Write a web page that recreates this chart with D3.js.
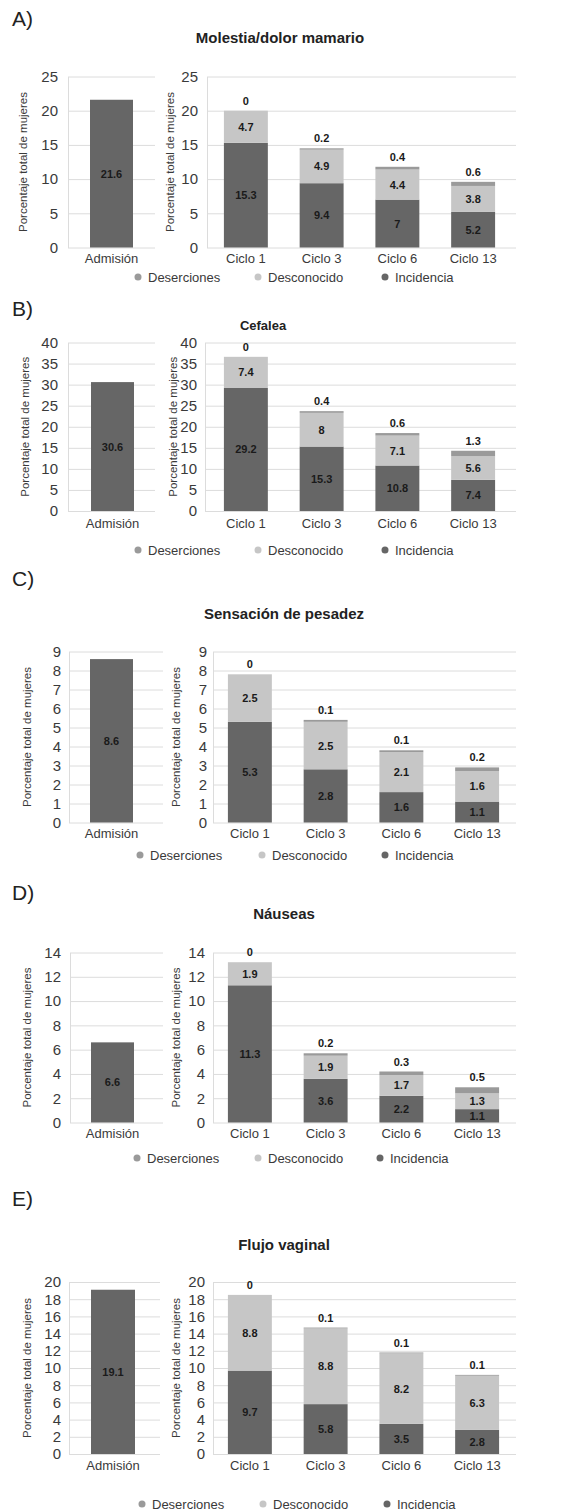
<!DOCTYPE html>
<html lang="es">
<head>
<meta charset="utf-8">
<script src="https://cdn.jsdelivr.net/npm/d3@7"></script>
<style>
  html, body { margin: 0; padding: 0; background: #fff; }
  svg { display: block; font-family: "Liberation Sans", Arial, sans-serif; }
</style>
</head>
<body>
<svg id="fig" width="572" height="1512"></svg>
<script>
// ---- data -------------------------------------------------------------
const panelLetters = ["A)", "B)", "C)", "D)", "E)"];
const titles = ["Molestia/dolor mamario", "Cefalea", "Sensación de pesadez", "Náuseas", "Flujo vaginal"];
const admisionLabel = ["Admisión"];
const cycles = ["Ciclo 1", "Ciclo 3", "Ciclo 6", "Ciclo 13"];
const admision = [21.6, 30.6, 8.6, 6.6, 19.1];
const incidencia = [
  [15.3, 9.4, 7, 5.2],
  [29.2, 15.3, 10.8, 7.4],
  [5.3, 2.8, 1.6, 1.1],
  [11.3, 3.6, 2.2, 1.1],
  [9.7, 5.8, 3.5, 2.8]
];
const desconocido = [
  [4.7, 4.9, 4.4, 3.8],
  [7.4, 8, 7.1, 5.6],
  [2.5, 2.5, 2.1, 1.6],
  [1.9, 1.9, 1.7, 1.3],
  [8.8, 8.8, 8.2, 6.3]
];
const deserciones = [
  [0, 0.2, 0.4, 0.6],
  [0, 0.4, 0.6, 1.3],
  [0, 0.1, 0.1, 0.2],
  [0, 0.2, 0.3, 0.5],
  [0, 0.1, 0.1, 0.1]
];
const yMax = [25, 40, 9, 14, 20];
const yStep = [5, 5, 1, 2, 2];
const legendLabels = ["Deserciones", "Desconocido", "Incidencia"];
const yTitle = "Porcentaje total de mujeres";

// ---- layout of each panel (pixels) -------------------------------------
const layout = [
  { letterY: 18,  titleX: 280, titleY: 37,  titleSize: 15, y0: 247.5, y1: 76.5,  catY: 258,  legY: 277,
    lAxis: 68, lBar: [90, 133], lGrid: 155, rAxis: 207, rBars: [208, 511], rGrid: 516, lPad: 10, rPad: 9, lTitle: 23, rTitle: 170, legX: [138, 258, 385] },
  { letterY: 308, titleX: 263, titleY: 325, titleSize: 13, y0: 511,   y1: 342.5, catY: 523,  legY: 550,
    lAxis: 68, lBar: [91, 134], lGrid: 155, rAxis: 205, rBars: [208, 511], rGrid: 516, lPad: 10, rPad: 8, lTitle: 25, rTitle: 173, legX: [138, 258, 385] },
  { letterY: 578, titleX: 284, titleY: 613, titleSize: 15, y0: 822.5, y1: 651.5, catY: 833,  legY: 855,
    lAxis: 69, lBar: [90, 133], lGrid: 163, rAxis: 213, rBars: [212, 515], rGrid: 516, lPad: 8, rPad: 6, lTitle: 27, rTitle: 176, legX: [140, 262, 385] },
  { letterY: 892, titleX: 284, titleY: 913, titleSize: 15, y0: 1122.5, y1: 952.5, catY: 1133, legY: 1158,
    lAxis: 70, lBar: [91, 134], lGrid: 163, rAxis: 213, rBars: [212, 515], rGrid: 516, lPad: 9, rPad: 8, lTitle: 27, rTitle: 176, legX: [137, 258, 380] },
  { letterY: 1198, titleX: 284, titleY: 1244, titleSize: 15, y0: 1454, y1: 1282, catY: 1465, legY: 1504,
    lAxis: 69, lBar: [91, 135], lGrid: 160, rAxis: 213, rBars: [212, 515], rGrid: 516, lPad: 8, rPad: 8, lTitle: 27, rTitle: 176, legX: [142, 263, 387] }
];

const colors = { Deserciones: "#9a9a9a", Desconocido: "#c6c6c6", Incidencia: "#666666" };
const gridColor = "#dcdcdc";
const textColor = "#3a3a3a";

const svg = d3.select("#fig");

panelLetters.forEach((letter, i) => {
  const L = layout[i];
  const g = svg.append("g");

  // panel letter and title
  g.append("text").attr("x", 12).attr("y", L.letterY).attr("dominant-baseline", "central")
    .attr("font-size", 21).attr("fill", "#222").text(letter);
  g.append("text").attr("x", L.titleX).attr("y", L.titleY).attr("dominant-baseline", "central")
    .attr("text-anchor", "middle").attr("font-size", L.titleSize).attr("font-weight", "bold")
    .attr("fill", "#222").text(titles[i]);

  const y = d3.scaleLinear().domain([0, yMax[i]]).range([L.y0, L.y1]);
  const ticks = d3.range(0, yMax[i] + 1e-9, yStep[i]);

  // ---- left chart: admission -------------------------------------------
  const bwL = L.lBar[1] - L.lBar[0];
  const xL = d3.scaleBand().domain(admisionLabel)
    .range([L.lBar[0] - bwL / 2, L.lBar[1] + bwL / 2]).paddingInner(0.5).paddingOuter(0.25);

  const axL = g.append("g").attr("transform", `translate(${L.lAxis},0)`)
    .call(d3.axisLeft(y).tickValues(ticks).tickSizeInner(-(L.lGrid - L.lAxis)).tickSizeOuter(0).tickPadding(L.lPad));
  styleYAxis(axL);

  g.append("g").selectAll("rect").data(admisionLabel).join("rect")
    .attr("x", d => xL(d)).attr("width", xL.bandwidth())
    .attr("y", () => y(admision[i])).attr("height", () => y(0) - y(admision[i]))
    .attr("fill", colors.Incidencia);
  g.append("text").attr("x", xL(admisionLabel[0]) + xL.bandwidth() / 2)
    .attr("y", (y(0) + y(admision[i])) / 2).attr("dominant-baseline", "central")
    .attr("text-anchor", "middle").attr("font-size", 11).attr("font-weight", "bold").attr("fill", "#1a1a1a")
    .text(admision[i]);

  const catL = g.append("g").attr("transform", `translate(0,${L.catY})`)
    .call(d3.axisBottom(xL).tickSize(0).tickPadding(0));
  styleXAxis(catL);

  g.append("text").attr("transform", `translate(${L.lTitle},${(L.y0 + L.y1) / 2}) rotate(-90)`)
    .attr("text-anchor", "middle").attr("dominant-baseline", "central")
    .attr("font-size", 11.5).attr("fill", textColor).text(yTitle);

  // ---- right chart: cycles, stacked -------------------------------------
  const xR = d3.scaleBand().domain(cycles).range(L.rBars).paddingInner(0.42).paddingOuter(0.21);

  const axR = g.append("g").attr("transform", `translate(${L.rAxis},0)`)
    .call(d3.axisLeft(y).tickValues(ticks).tickSizeInner(-(L.rGrid - L.rAxis)).tickSizeOuter(0).tickPadding(L.rPad));
  styleYAxis(axR);

  const rows = cycles.map((c, j) => ({
    cycle: c,
    Incidencia: incidencia[i][j],
    Desconocido: desconocido[i][j],
    Deserciones: deserciones[i][j]
  }));
  const stack = d3.stack().keys(["Incidencia", "Desconocido", "Deserciones"])(rows);

  g.append("g").selectAll("g").data(stack).join("g")
    .attr("fill", s => colors[s.key])
    .selectAll("rect").data(s => s).join("rect")
    .attr("x", d => xR(d.data.cycle)).attr("width", xR.bandwidth())
    .attr("y", d => y(d[1])).attr("height", d => y(d[0]) - y(d[1]));

  // labels inside the two main segments
  stack.filter(s => s.key !== "Deserciones").forEach(s => {
    g.append("g").selectAll("text").data(s).join("text")
      .attr("x", d => xR(d.data.cycle) + xR.bandwidth() / 2)
      .attr("y", d => (y(d[0]) + y(d[1])) / 2)
      .attr("dominant-baseline", "central").attr("text-anchor", "middle")
      .attr("font-size", 11).attr("font-weight", "bold").attr("fill", "#1a1a1a")
      .text(d => d.data[s.key]);
  });
  // dropout values sit above each bar
  const top = stack[2];
  g.append("g").selectAll("text").data(top).join("text")
    .attr("x", d => xR(d.data.cycle) + xR.bandwidth() / 2)
    .attr("y", d => y(d[1]) - 10)
    .attr("dominant-baseline", "central").attr("text-anchor", "middle")
    .attr("font-size", 11).attr("font-weight", "bold").attr("fill", "#1a1a1a")
    .text(d => d.data.Deserciones);

  const catR = g.append("g").attr("transform", `translate(0,${L.catY})`)
    .call(d3.axisBottom(xR).tickSize(0).tickPadding(0));
  styleXAxis(catR);

  g.append("text").attr("transform", `translate(${L.rTitle},${(L.y0 + L.y1) / 2}) rotate(-90)`)
    .attr("text-anchor", "middle").attr("dominant-baseline", "central")
    .attr("font-size", 11.5).attr("fill", textColor).text(yTitle);

  // ---- legend --------------------------------------------------------------
  const leg = g.append("g").selectAll("g").data(legendLabels).join("g")
    .attr("transform", (d, k) => `translate(${L.legX[k]},${L.legY})`);
  leg.append("circle").attr("r", 3.5).attr("fill", d => colors[d]);
  leg.append("text").attr("x", 10).attr("dominant-baseline", "central")
    .attr("font-size", 13).attr("fill", textColor).text(d => d);
});

function styleYAxis(sel) {
  sel.select(".domain").attr("stroke", gridColor);
  sel.selectAll(".tick line").attr("stroke", gridColor);
  sel.selectAll(".tick text").attr("font-size", 15).attr("fill", textColor)
    .attr("font-family", "'Liberation Sans', Arial, sans-serif");
}
function styleXAxis(sel) {
  sel.select(".domain").remove();
  sel.selectAll(".tick text").attr("dy", null).attr("dominant-baseline", "central")
    .attr("font-size", 13).attr("fill", textColor)
    .attr("font-family", "'Liberation Sans', Arial, sans-serif");
}
</script>
</body>
</html>
